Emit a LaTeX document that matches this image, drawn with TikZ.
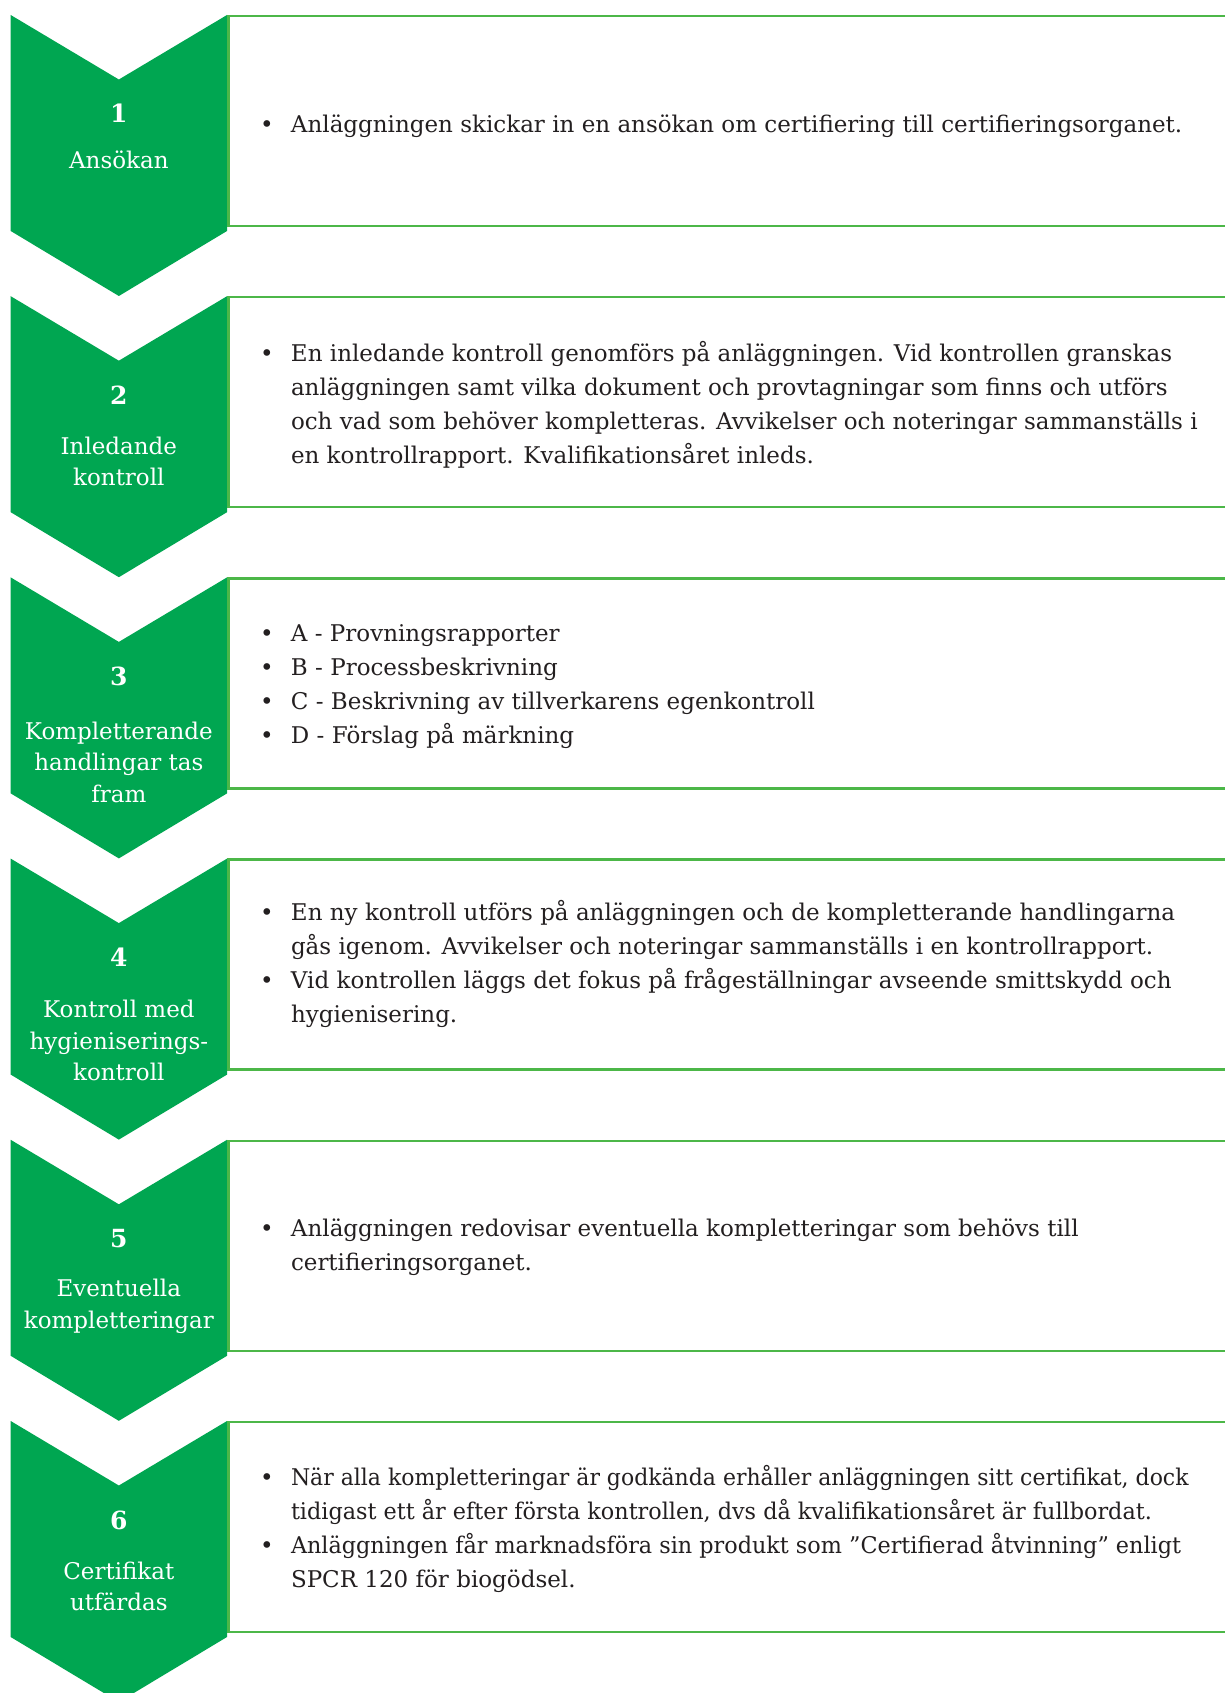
\documentclass[tikz,border=0pt]{standalone}
\usepackage{fontspec}
\usepackage{graphicx}
\setmainfont{DejaVu Serif}
\definecolor{chevgreen}{RGB}{0,166,81}
\definecolor{boxgreen}{RGB}{76,183,72}
\definecolor{txtgray}{RGB}{35,31,32}
\newcommand\blist[1]{{\fontsize{23}{34}\selectfont\begin{tabular}[t]{@{}p{31pt}@{}l@{}}#1\end{tabular}}}
\newcommand\bul{\textbullet}
\newcommand\clab[1]{{\fontsize{23}{31.5}\selectfont\begin{tabular}[t]{@{}c@{}}#1\end{tabular}}}
\begin{document}
\begin{tikzpicture}[x=1pt,y=-1pt,
  chev/.style={fill=chevgreen,draw=none},
  boxstyle/.style={draw=boxgreen,line width=2.5pt,fill=white,minimum width=1020pt,minimum height=210pt,anchor=north west,inner sep=0pt,outer sep=0pt},
  body/.style={anchor=base west,inner sep=0pt,outer sep=0pt,text=txtgray},
  numstyle/.style={anchor=base,inner sep=0pt,outer sep=0pt,text=white,font=\fontsize{25}{25}\selectfont\bfseries},
  labstyle/.style={anchor=base,inner sep=0pt,outer sep=0pt,text=white}]
\useasboundingbox[fill=white] (0,0) rectangle (1224,1693);
\foreach \i/\T in {1/15,2/296.2,3/577.4,4/858.6,5/1139.8,6/1421}{
  \path[chev] (10.7,\T) -- (118.85,\T+64.5) -- (227,\T) -- (227,\T+216) -- (118.85,\T+281) -- (10.7,\T+216) -- cycle;
  \coordinate (c\i) at (118.85,\T);
  \node[boxstyle] (box\i) at (228.5,\T+1) {};
}
% step 1
\node[numstyle] (n1) at (118.85,15+108) {1};
\node[labstyle] (l1) at (118.85,15+154) {\clab{Ansökan}};
\node[body] (t1) at (260,15+118) {\blist{\bul & Anläggningen skickar in en ansökan om certifiering till certifieringsorganet.}};
% step 2
\node[numstyle] (n2) at (118.85,296.2+108) {2};
\node[labstyle] (l2) at (118.85,296.2+158) {\clab{Inledande\\kontroll}};
\node[body] (t2) at (260,296.2+65) {\blist{\bul & En inledande kontroll genomförs på anläggningen. Vid kontrollen granskas\\
 & anläggningen samt vilka dokument och provtagningar som finns och utförs\\
 & och vad som behöver kompletteras. Avvikelser och noteringar sammanställs i\\
 & en kontrollrapport. Kvalifikationsåret inleds.}};
% step 3
\node[numstyle] (n3) at (118.85,577.4+108) {3};
\node[labstyle] (l3) at (118.85,577.4+162) {\clab{Kompletterande\\handlingar tas\\fram}};
\node[body] (t3) at (260,577.4+64) {\blist{\bul & A - Provningsrapporter\\
\bul & B - Processbeskrivning\\
\bul & C - Beskrivning av tillverkarens egenkontroll\\
\bul & D - Förslag på märkning}};
% step 4
\node[numstyle] (n4) at (118.85,858.6+108) {4};
\node[labstyle] (l4) at (118.85,858.6+159) {\clab{Kontroll med\\hygieniserings-\\kontroll}};
\node[body] (t4) at (260,858.6+62) {\blist{\bul & En ny kontroll utförs på anläggningen och de kompletterande handlingarna\\
 & gås igenom. Avvikelser och noteringar sammanställs i en kontrollrapport.\\
\bul & Vid kontrollen läggs det fokus på frågeställningar avseende smittskydd och\\
 & hygienisering.}};
% step 5
\node[numstyle] (n5) at (118.85,1139.8+108) {5};
\node[labstyle] (l5) at (118.85,1139.8+157) {\clab{Eventuella\\kompletteringar}};
\node[body] (t5) at (260,1139.8+97) {\blist{\bul & Anläggningen redovisar eventuella kompletteringar som behövs till\\
 & certifieringsorganet.}};
% step 6
\node[numstyle] (n6) at (118.85,1421+108) {6};
\node[labstyle] (l6) at (118.85,1421+158) {\clab{Certifikat\\utfärdas}};
\node[body] (t6) at (260,1421+64) {\blist{\bul & \scalebox{0.955}[1]{När alla kompletteringar är godkända erhåller anläggningen sitt certifikat, dock}\\
 & \scalebox{0.97}[1]{tidigast ett år efter första kontrollen, dvs då kvalifikationsåret är fullbordat.}\\
\bul & \scalebox{0.97}[1]{Anläggningen får marknadsföra sin produkt som ”Certifierad åtvinning” enligt}\\
 & SPCR 120 för biogödsel.}};
\end{tikzpicture}
\end{document}
